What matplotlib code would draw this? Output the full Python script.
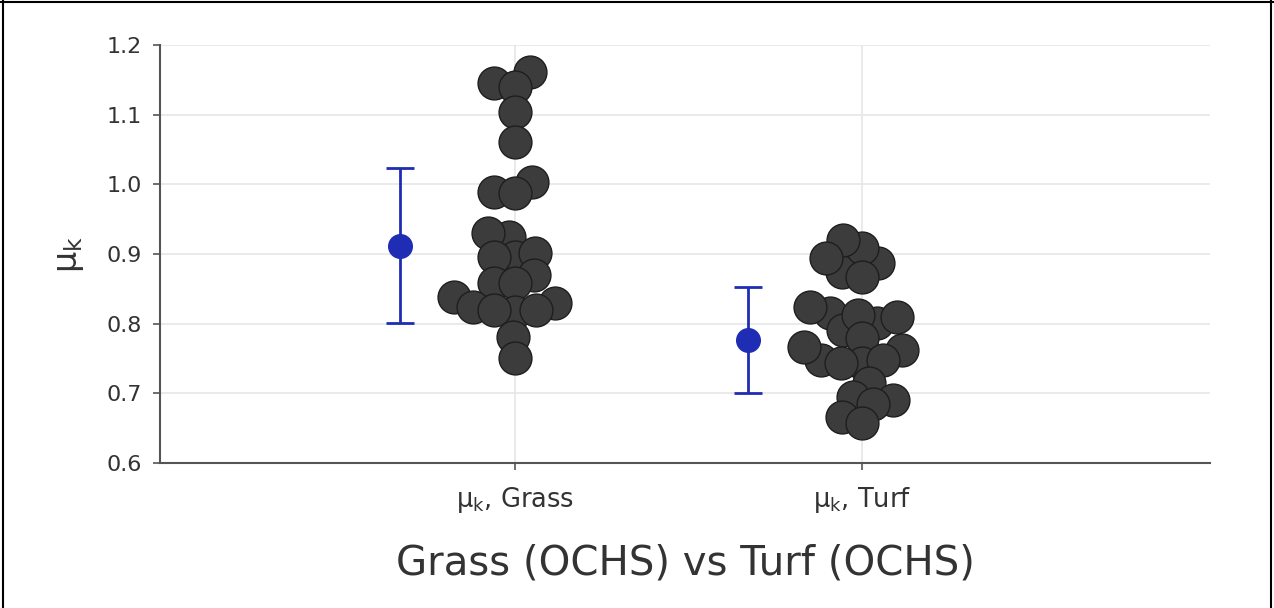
import matplotlib.pyplot as plt
import numpy as np
from matplotlib.lines import Line2D

# data
groups = [r"$\mathregular{\mu_k}$, Grass", r"$\mathregular{\mu_k}$, Turf"]
grass = [1.161, 1.145, 1.140, 1.104, 1.061, 1.004, 0.989, 0.988, 0.925, 0.930,
         0.896, 0.902, 0.896, 0.870, 0.859, 0.838, 0.859, 0.830, 0.817, 0.824,
         0.820, 0.820, 0.781, 0.751]
turf = [0.874, 0.887, 0.909, 0.920, 0.894, 0.867, 0.815, 0.801, 0.824, 0.810,
        0.791, 0.813, 0.780, 0.762, 0.748, 0.744, 0.767, 0.748, 0.744, 0.715,
        0.695, 0.691, 0.684, 0.666, 0.658]
means = [0.912, 0.776]
sds = [0.111, 0.076]
yticks = [0.6, 0.7, 0.8, 0.9, 1.0, 1.1, 1.2]
x_title = "Grass (OCHS) vs Turf (OCHS)"
y_title = r"$\mathregular{\mu_k}$"


def swarm_offsets(ypix, d):
    # simple beeswarm in pixel space, d = min distance between centres
    order = np.argsort(ypix)
    placed = []
    xs = np.zeros(len(ypix))
    for i in order:
        y = ypix[i]
        cands = [0.0]
        for px, py in placed:
            dy = abs(py - y)
            if dy < d:
                dx = np.sqrt(d * d - dy * dy)
                cands += [px - dx, px + dx]
        cands.sort(key=abs)
        for c in cands:
            if all((c - px) ** 2 + (y - py) ** 2 >= d * d - 1e-6 for px, py in placed):
                xs[i] = c
                placed.append((c, y))
                break
    return xs


fig = plt.figure(figsize=(12.74, 6.08), dpi=100)
ax = fig.add_axes([160 / 1274, 1 - 463 / 608, 1050 / 1274, 418 / 608])
ax.set_xlim(-1.02, 2.0)
ax.set_ylim(0.6, 1.2)

fig.canvas.draw()
x_unit = ax.transData.transform((1, 0))[0] - ax.transData.transform((0, 0))[0]

for i, vals in enumerate([grass, turf]):
    vals = np.array(vals)
    ypix = ax.transData.transform(np.column_stack([np.zeros_like(vals), vals]))[:, 1]
    off = swarm_offsets(ypix, 21.0) / x_unit
    ax.scatter(i + off, vals, s=560, color="#3c3c3c", edgecolor="#1e1e1e",
               linewidth=1.0, zorder=3)

ax.errorbar(np.arange(len(means)) - 0.33, means, yerr=sds, fmt="o",
            color="#1f2db4", ms=17, capsize=10, elinewidth=2, capthick=2, zorder=4)

ax.set_xticks(range(len(groups)))
ax.set_xticklabels(groups, fontsize=18.5, color="#333333")
ax.set_yticks(yticks)
ax.set_yticklabels([f"{v:.1f}" for v in yticks], fontsize=16, color="#333333")
ax.grid(True, color="#e6e6e6", linewidth=1.2, zorder=0)
ax.set_axisbelow(True)
for s in ["top", "right"]:
    ax.spines[s].set_visible(False)
for s in ["left", "bottom"]:
    ax.spines[s].set_color("#555555")
    ax.spines[s].set_linewidth(1.5)
ax.tick_params(colors="#555555", length=5, width=1.2)
ax.tick_params(axis="x", pad=11, labelcolor="#333333")
ax.tick_params(axis="y", pad=8, labelcolor="#333333")

ax.set_xlabel(x_title, fontsize=29, color="#333333", labelpad=20)
ax.set_ylabel(y_title, fontsize=24, color="#333333", labelpad=15)

# outer frame
for xs_, ys_ in [([0.002, 0.002], [0, 1]), ([0, 1], [0.997, 0.997]), ([0.998, 0.998], [0, 1])]:
    fig.add_artist(Line2D(xs_, ys_, color="black", linewidth=1.5, transform=fig.transFigure))

fig.savefig("out.png", dpi=100)
